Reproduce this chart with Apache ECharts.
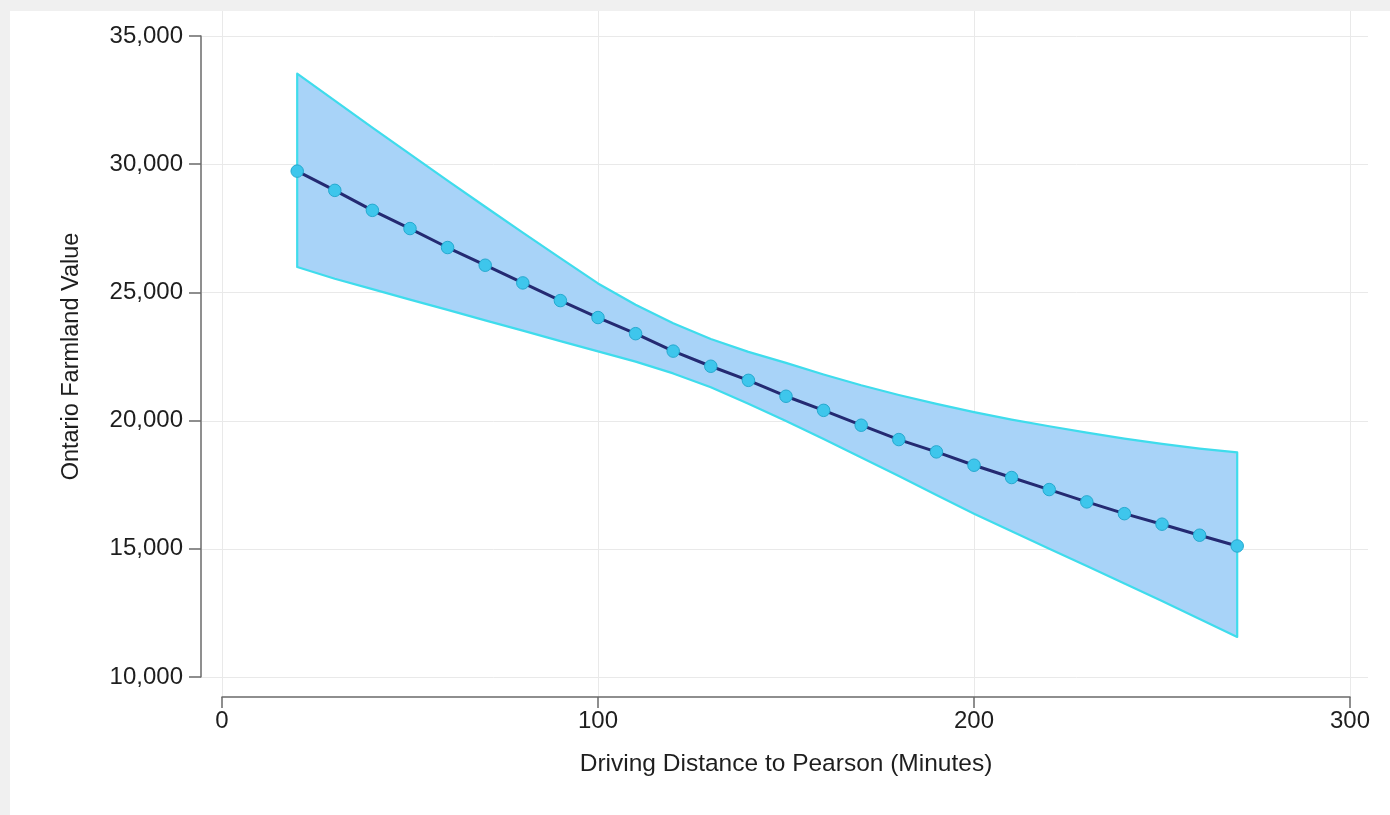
<!DOCTYPE html>
<html>
<head>
<meta charset="utf-8">
<script src="https://cdn.jsdelivr.net/npm/echarts@6/dist/echarts.min.js"></script>
<style>
  html, body { margin: 0; padding: 0; background: #f0f0f0; }
  #chart { width: 1390px; height: 815px; }
</style>
</head>
<body>
<div id="chart"></div>
<script>
// ---- data ----
const xValues = [20, 30, 40, 50, 60, 70, 80, 90, 100, 110, 120, 130, 140, 150, 160, 170, 180, 190, 200, 210, 220, 230, 240, 250, 260, 270];
const meanValues = [29730, 28980, 28200, 27490, 26750, 26060, 25370, 24680, 24020, 23390, 22710, 22120, 21570, 20950, 20400, 19820, 19260, 18780, 18260, 17780, 17310, 16830, 16370, 15960, 15530, 15110];
const upperValues = [33530, 32480, 31430, 30390, 29360, 28340, 27330, 26340, 25350, 24520, 23800, 23180, 22680, 22250, 21800, 21380, 21000, 20650, 20330, 20040, 19780, 19530, 19300, 19090, 18910, 18760];
const lowerValues = [25990, 25530, 25130, 24720, 24320, 23910, 23510, 23100, 22700, 22300, 21840, 21300, 20660, 19980, 19280, 18560, 17840, 17100, 16370, 15680, 15000, 14330, 13650, 12960, 12260, 11560];
const xTicks = [0, 100, 200, 300];
const yTicks = [10000, 15000, 20000, 25000, 30000, 35000];
const xTitle = 'Driving Distance to Pearson (Minutes)';
const yTitle = 'Ontario Farmland Value';

const FONT = "'Liberation Sans', Arial, Helvetica, sans-serif";
const TXT = '#1e1e1e';
const chart = echarts.init(document.getElementById('chart'), null, { renderer: 'canvas' });

const option = {
  backgroundColor: '#f0f0f0',
  animation: false,
  grid: { left: 222, right: 40, top: 36, bottom: 138, containLabel: false },
  xAxis: {
    type: 'value', min: xTicks[0], max: xTicks[xTicks.length - 1], interval: 100,
    offset: 20,
    axisLine: { show: true, onZero: false, lineStyle: { color: '#6a6a6a', width: 1.5 } },
    axisTick: { show: true, length: 11, lineStyle: { color: '#6a6a6a', width: 1.5 } },
    axisLabel: { fontSize: 24, color: TXT, fontFamily: FONT, margin: 12 },
    splitLine: { show: false },
    name: xTitle, nameLocation: 'middle', nameGap: 55,
    nameTextStyle: { fontSize: 24.5, color: TXT, fontFamily: FONT }
  },
  yAxis: {
    type: 'value', min: yTicks[0], max: yTicks[yTicks.length - 1], interval: 5000,
    offset: 21,
    axisLine: { show: true, onZero: false, lineStyle: { color: '#6a6a6a', width: 1.5 } },
    axisTick: { show: true, length: 12, lineStyle: { color: '#6a6a6a', width: 1.5 } },
    axisLabel: {
      fontSize: 24, color: TXT, fontFamily: FONT, margin: 18,
      formatter: v => v.toLocaleString('en-US')
    },
    splitLine: { show: false },
    name: yTitle, nameLocation: 'middle', nameGap: 117, nameRotate: 90,
    nameTextStyle: { fontSize: 23.5, color: TXT, fontFamily: FONT }
  },
  series: [
    {
      type: 'custom',
      z: 2,
      data: xValues.map((x, i) => [x, upperValues[i], lowerValues[i]]),
      encode: { x: 0, y: [1, 2] },
      renderItem: function (params, api) {
        if (params.dataIndex !== 0) return null;
        const pts = [];
        for (let i = 0; i < xValues.length; i++) pts.push(api.coord([xValues[i], upperValues[i]]));
        for (let i = xValues.length - 1; i >= 0; i--) pts.push(api.coord([xValues[i], lowerValues[i]]));
        return {
          type: 'polygon',
          shape: { points: pts },
          style: { fill: '#a8d3f8', stroke: '#3fdcec', lineWidth: 2.2, lineJoin: 'round' }
        };
      }
    },
    {
      type: 'line',
      z: 3,
      data: xValues.map((x, i) => [x, meanValues[i]]),
      symbol: 'circle',
      symbolSize: 12.5,
      lineStyle: { color: '#242a72', width: 3 },
      itemStyle: { color: '#3ec6ec', borderColor: '#25a9cf', borderWidth: 1 }
    }
  ]
};
chart.setOption(option);

// plot-region gridlines (Stata style, spanning the whole plot region)
const regionLeft = 202, regionRight = 1368, regionTop = 11, regionBottom = 697;
const gridColor = '#e9e9e9';
const graphics = [
  { type: 'rect', z: -10, silent: true, shape: { x: 10, y: 11, width: 1380, height: 804 }, style: { fill: '#ffffff' } }
];
xTicks.forEach(v => {
  const px = Math.round(chart.convertToPixel({ gridIndex: 0 }, [v, yTicks[0]])[0]) + 0.5;
  graphics.push({ type: 'line', z: -5, silent: true, shape: { x1: px, y1: regionTop, x2: px, y2: regionBottom }, style: { stroke: gridColor, lineWidth: 1 } });
});
yTicks.forEach(v => {
  const py = Math.round(chart.convertToPixel({ gridIndex: 0 }, [xTicks[0], v])[1]) + 0.5;
  graphics.push({ type: 'line', z: -5, silent: true, shape: { x1: regionLeft, y1: py, x2: regionRight, y2: py }, style: { stroke: gridColor, lineWidth: 1 } });
});
chart.setOption({ graphic: graphics });
</script>
</body>
</html>
